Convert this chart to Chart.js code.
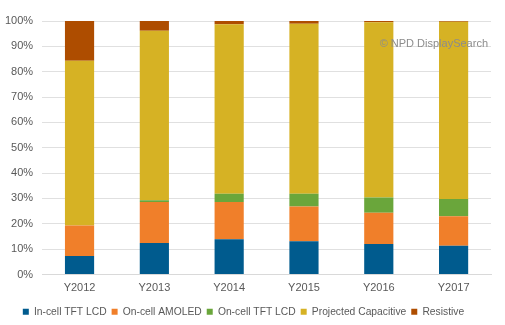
<!DOCTYPE html>
<html>
<head>
<meta charset="utf-8">
<script src="https://cdn.jsdelivr.net/npm/chart.js@4/dist/chart.umd.min.js"></script>
<style>
  html, body { margin: 0; padding: 0; background: #fff; }
  #wrap { width: 505px; height: 325px; position: relative; }
</style>
</head>
<body>
<div id="wrap"><canvas id="myChart"></canvas></div>
<script>
// share of touch technologies by year (%)
var years = ["Y2012", "Y2013", "Y2014", "Y2015", "Y2016", "Y2017"];
var inCellTft = [7.3, 12.4, 13.9, 13.1, 12.0, 11.3];
var onCellAmoled = [12.0, 16.2, 14.7, 13.7, 12.4, 11.7];
var onCellTft = [0.0, 0.7, 3.3, 5.1, 6.0, 6.8];
var projected = [65.0, 66.9, 66.8, 67.0, 69.1, 69.9];
var resistive = [15.7, 3.8, 1.3, 1.1, 0.5, 0.3];
var seriesNames = ["In-cell TFT LCD", "On-cell AMOLED", "On-cell TFT LCD", "Projected Capacitive", "Resistive"];
var seriesColors = ["#005b8e", "#f07f2a", "#6aa63b", "#d6b224", "#ae4d00"];

var watermark = {
  id: "watermark",
  afterDraw: function(chart) {
    var ctx = chart.ctx;
    ctx.save();
    ctx.font = "11px 'Liberation Sans', Arial, sans-serif";
    ctx.fillStyle = "#8c8c8c";
    ctx.textAlign = "right";
    ctx.textBaseline = "middle";
    ctx.fillText("\u00a9 NPD DisplaySearch", chart.chartArea.right - 3, 44);
    ctx.restore();
  }
};

var allData = [inCellTft, onCellAmoled, onCellTft, projected, resistive];
var datasets = [];
for (var i = 0; i < seriesNames.length; i++) {
  datasets.push({
    label: seriesNames[i],
    data: allData[i],
    backgroundColor: seriesColors[i],
    borderWidth: 0,
    barPercentage: 0.39,
    categoryPercentage: 1.0
  });
}

new Chart("myChart", {
  type: "bar",
  data: { labels: years, datasets: datasets },
  plugins: [watermark],
  options: {
    responsive: true,
    maintainAspectRatio: false,
    animation: false,
    layout: { padding: { top: 21, right: 14, left: -4, bottom: -2 } },
    plugins: {
      legend: {
        position: "bottom",
        labels: {
          boxWidth: 6,
          boxHeight: 6,
          padding: 5,
          color: "#595959",
          font: { family: "'Liberation Sans', Arial, sans-serif", size: 10.3 }
        }
      },
      tooltip: { enabled: false }
    },
    scales: {
      x: {
        stacked: true,
        grid: { display: false, drawTicks: false },
        border: { color: "#d9d9d9" },
        ticks: {
          padding: 7,
          color: "#595959",
          font: { family: "'Liberation Sans', Arial, sans-serif", size: 11 }
        }
      },
      y: {
        stacked: true,
        min: 0,
        max: 100,
        grid: { color: "#e0e0e0", drawTicks: false },
        border: { display: false },
        ticks: {
          stepSize: 10,
          padding: 9,
          color: "#595959",
          font: { family: "'Liberation Sans', Arial, sans-serif", size: 11 },
          callback: function(v) { return v + "%"; }
        }
      }
    }
  }
});
</script>
</body>
</html>
